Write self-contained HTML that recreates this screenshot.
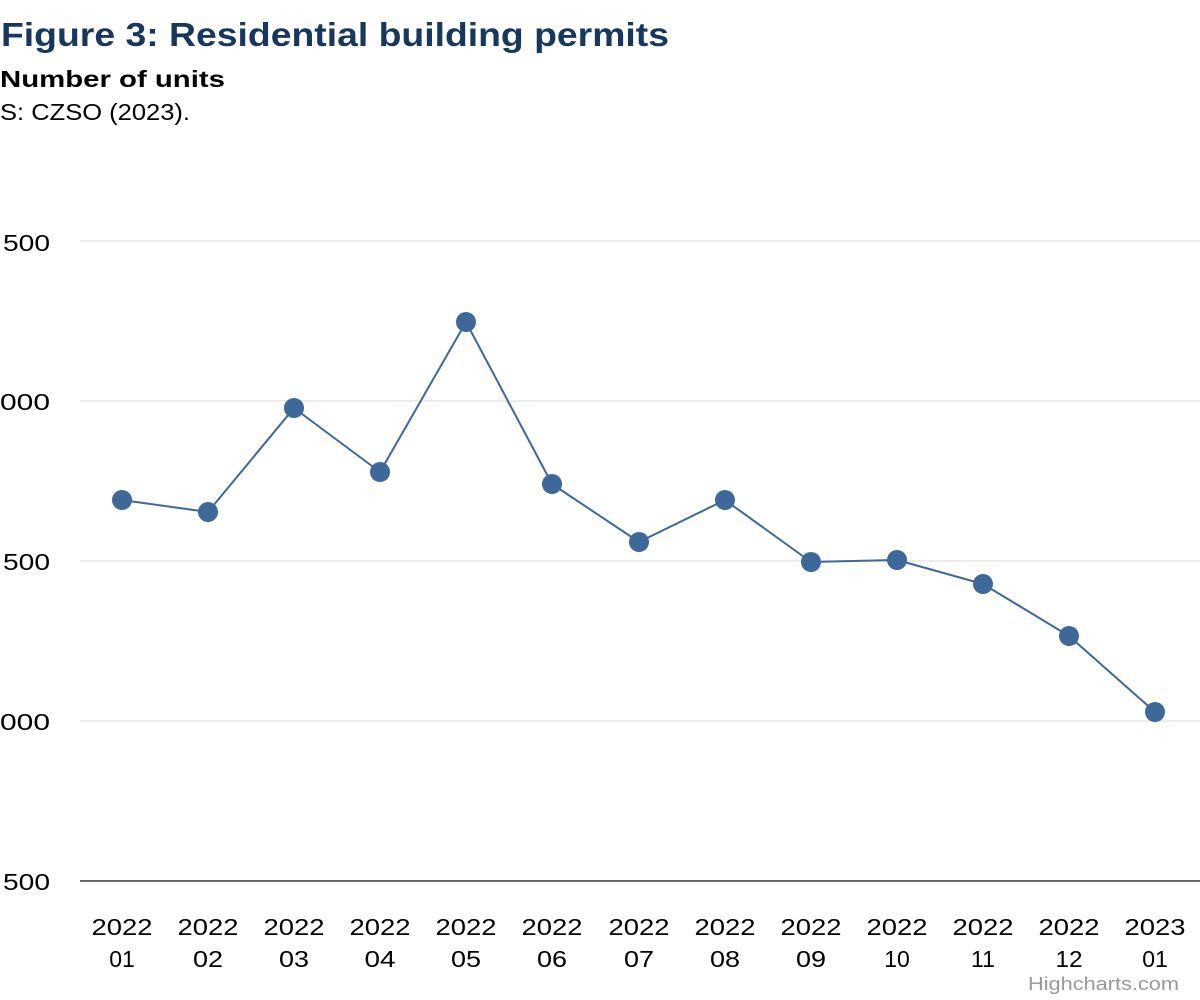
<!DOCTYPE html>
<html>
<head>
<meta charset="utf-8">
<style>
html,body{margin:0;padding:0;background:#fff;}
svg{display:block;}
text{font-family:"Liberation Sans",sans-serif;}
</style>
</head>
<body>
<svg width="1200" height="1000" viewBox="0 0 1200 1000" xmlns="http://www.w3.org/2000/svg">
<rect width="1200" height="1000" fill="#fff"/>
<text x="1" y="46" font-size="33" font-weight="bold" fill="#17375e" textLength="668" lengthAdjust="spacingAndGlyphs">Figure 3: Residential building permits</text>
<text x="0" y="87" font-size="23" font-weight="bold" fill="#000" textLength="225" lengthAdjust="spacingAndGlyphs">Number of units</text>
<text x="0" y="120" font-size="23" fill="#000" textLength="190" lengthAdjust="spacingAndGlyphs">S: CZSO (2023).</text>

<g stroke="#e6e6e6" stroke-width="1.5">
<line x1="80" y1="241" x2="1200" y2="241"/>
<line x1="80" y1="401" x2="1200" y2="401"/>
<line x1="80" y1="561" x2="1200" y2="561"/>
<line x1="80" y1="721" x2="1200" y2="721"/>
</g>
<line x1="80" y1="881" x2="1200" y2="881" stroke="#333" stroke-width="1.5"/>

<g font-size="23" fill="#000" text-anchor="end">
<text x="50" y="251" textLength="47" lengthAdjust="spacingAndGlyphs">500</text>
<text x="50" y="410" textLength="50" lengthAdjust="spacingAndGlyphs">000</text>
<text x="50" y="570" textLength="47" lengthAdjust="spacingAndGlyphs">500</text>
<text x="50" y="730" textLength="50" lengthAdjust="spacingAndGlyphs">000</text>
<text x="50" y="890" textLength="47" lengthAdjust="spacingAndGlyphs">500</text>
</g>

<g font-size="23" fill="#000" text-anchor="middle">
<text x="122" y="935" textLength="61" lengthAdjust="spacingAndGlyphs">2022</text><text x="122" y="967">01</text>
<text x="208" y="935" textLength="61" lengthAdjust="spacingAndGlyphs">2022</text><text x="208" y="967" textLength="30" lengthAdjust="spacingAndGlyphs">02</text>
<text x="294" y="935" textLength="61" lengthAdjust="spacingAndGlyphs">2022</text><text x="294" y="967" textLength="30" lengthAdjust="spacingAndGlyphs">03</text>
<text x="380" y="935" textLength="61" lengthAdjust="spacingAndGlyphs">2022</text><text x="380" y="967" textLength="31" lengthAdjust="spacingAndGlyphs">04</text>
<text x="466" y="935" textLength="61" lengthAdjust="spacingAndGlyphs">2022</text><text x="466" y="967" textLength="30" lengthAdjust="spacingAndGlyphs">05</text>
<text x="552" y="935" textLength="61" lengthAdjust="spacingAndGlyphs">2022</text><text x="552" y="967" textLength="30" lengthAdjust="spacingAndGlyphs">06</text>
<text x="639" y="935" textLength="61" lengthAdjust="spacingAndGlyphs">2022</text><text x="639" y="967" textLength="30" lengthAdjust="spacingAndGlyphs">07</text>
<text x="725" y="935" textLength="61" lengthAdjust="spacingAndGlyphs">2022</text><text x="725" y="967" textLength="30" lengthAdjust="spacingAndGlyphs">08</text>
<text x="811" y="935" textLength="61" lengthAdjust="spacingAndGlyphs">2022</text><text x="811" y="967" textLength="30" lengthAdjust="spacingAndGlyphs">09</text>
<text x="897" y="935" textLength="61" lengthAdjust="spacingAndGlyphs">2022</text><text x="897" y="967">10</text>
<text x="983" y="935" textLength="61" lengthAdjust="spacingAndGlyphs">2022</text><text x="983" y="967">11</text>
<text x="1069" y="935" textLength="61" lengthAdjust="spacingAndGlyphs">2022</text><text x="1069" y="967" textLength="27" lengthAdjust="spacingAndGlyphs">12</text>
<text x="1155" y="935" textLength="61" lengthAdjust="spacingAndGlyphs">2023</text><text x="1155" y="967">01</text>
</g>

<polyline fill="none" stroke="#3d6899" stroke-width="2" stroke-linejoin="round"
points="122,500 208,512 294,408 380,472 466,322 552,484 639,542 725,500 811,562 897,560 983,584 1069,636 1155,712"/>
<g fill="#3d6899">
<circle cx="122" cy="500" r="10"/>
<circle cx="208" cy="512" r="10"/>
<circle cx="294" cy="408" r="10"/>
<circle cx="380" cy="472" r="10"/>
<circle cx="466" cy="322" r="10"/>
<circle cx="552" cy="484" r="10"/>
<circle cx="639" cy="542" r="10"/>
<circle cx="725" cy="500" r="10"/>
<circle cx="811" cy="562" r="10"/>
<circle cx="897" cy="560" r="10"/>
<circle cx="983" cy="584" r="10"/>
<circle cx="1069" cy="636" r="10"/>
<circle cx="1155" cy="712" r="10"/>
</g>

<text x="1179" y="990" font-size="18" fill="#999" text-anchor="end" textLength="151" lengthAdjust="spacingAndGlyphs">Highcharts.com</text>
</svg>
</body>
</html>
